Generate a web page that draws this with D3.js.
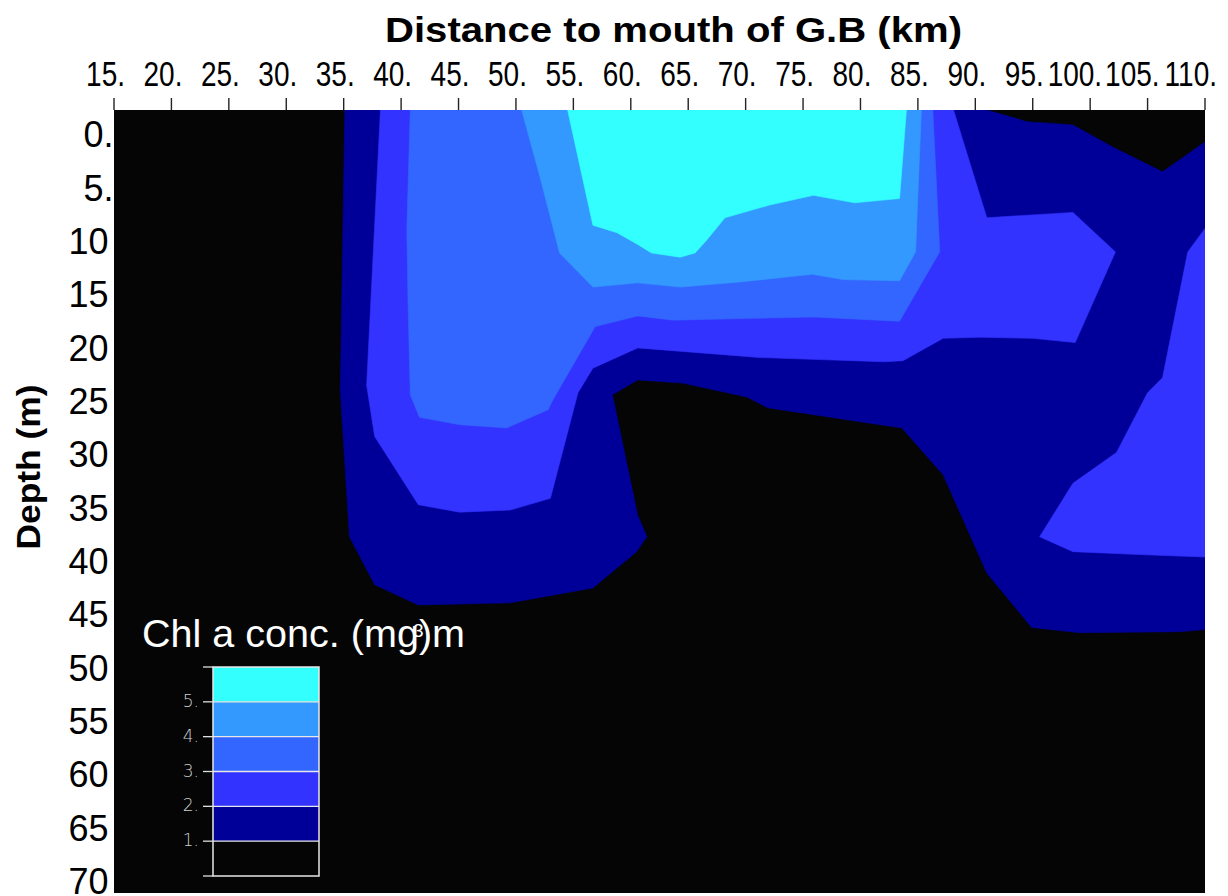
<!DOCTYPE html>
<html><head><meta charset="utf-8">
<script src="https://cdn.jsdelivr.net/npm/d3@7"></script>
<style>html,body{margin:0;padding:0;background:#fff;} svg{display:block;}</style>
</head><body>
<svg id="c" width="1228" height="896"></svg>
<script>
// ---- data ----
const xTicks = [15,20,25,30,35,40,45,50,55,60,65,70,75,80,85,90,95,100,105,110];
const yTicks = [0,5,10,15,20,25,30,35,40,45,50,55,60,65,70];
const levelValues = [1,2,3,4,5];
const levelColors = ["#000099","#3333ff","#3366ff","#3399ff","#33ffff"];
const legendLabels = ["1.","2.","3.","4.","5."];

// contour regions (distance km, depth m): area where Chl a >= level
const level1 = [[
  [35.1,-3.4],[91.0,-3.4],[94.5,-2.3],[98.5,-2.0],[102.0,0.1],[106.3,2.4],[110,-0.4],
  [110,45.3],[107.8,45.5],[99.1,45.6],[94.9,45.1],[91.0,40.0],[87.2,30.8],[83.6,26.4],
  [81.7,26.1],[71.9,24.5],[70.1,23.5],[64.5,22.2],[60.6,21.9],[58.4,23.3],[60.6,34.6],
  [61.4,36.6],[60.5,38.0],[56.7,41.4],[49.5,42.8],[41.5,43.0],[37.7,41.1],[35.5,36.6],[34.7,22.9]
]];
const level2 = [[
  [38.2,-3.4],[88.1,-3.4],[91.0,6.7],[98.5,6.2],[102.2,9.9],[98.7,18.4],[95.0,18.0],
  [90.4,17.9],[87.2,18.0],[83.7,20.1],[82.0,20.2],[71.2,19.8],[60.6,18.9],[56.7,20.8],
  [55.4,23.1],[53.0,33.0],[49.5,34.1],[45.1,34.3],[41.5,33.6],[37.7,27.2],[37.0,22.4]
],[
  [110,7.7],[108.5,9.9],[106.3,21.7],[105.0,23.1],[102.3,28.7],[98.5,31.6],[95.6,36.6],
  [98.5,38.0],[104.9,38.3],[110,38.5]
]];
const level3 = [[
  [40.8,-3.4],[86.3,-3.4],[86.9,9.9],[83.4,16.4],[75.9,16.0],[63.7,16.3],[60.6,15.9],
  [56.9,16.9],[53.2,23.8],[52.8,24.7],[49.2,26.4],[45.1,26.1],[41.6,25.4],[40.8,23.3],
  [40.6,14.4],[40.5,7.8]
]];
const level4 = [[
  [50.5,-3.4],[85.3,-3.4],[84.8,9.9],[83.4,12.6],[78.5,12.5],[75.8,12.0],[69.7,12.7],
  [64.3,13.2],[60.6,12.8],[56.7,13.2],[53.8,10.0],[52.1,2.9]
]];
const level5 = [[
  [54.5,-3.4],[84.0,-3.4],[83.4,4.9],[79.5,5.3],[75.9,4.6],[72.1,5.5],[68.2,6.7],
  [66.6,8.8],[65.6,10.0],[64.3,10.4],[61.8,10.0],[60.6,9.2],[58.8,8.1],[56.7,7.4]
]];
const levelRegions = [level1, level2, level3, level4, level5];

(function(){
// ---- layout ----
const svg = d3.select("#c");
const W = 1228, H = 896;
const pL = 114, pR = 1205, pT = 110, pB = 893;
const font = "'Liberation Sans', Arial, Helvetica, sans-serif";

const x = d3.scaleLinear().domain([15,110]).range([pL,pR]);
const y = d3.scaleLinear().domain([-3.4,70]).range([pT,pB]);

svg.append("rect").attr("width",W).attr("height",H).attr("fill","#fff");

svg.append("defs").append("clipPath").attr("id","pc")
  .append("rect").attr("x",pL).attr("y",pT).attr("width",pR-pL).attr("height",pB-pT);

const plot = svg.append("g").attr("clip-path","url(#pc)");
plot.append("rect").attr("x",pL).attr("y",pT).attr("width",pR-pL).attr("height",pB-pT)
  .attr("fill","#050505");

const line = d3.line().x(d=>x(d[0])).y(d=>y(d[1]));
levelRegions.forEach((polys,i)=>{
  plot.selectAll(null).data(polys).enter().append("path")
    .attr("d", p => line(p) + "Z")
    .attr("fill", levelColors[i])
    .attr("stroke", levelColors[i]).attr("stroke-width",0.6);
});

// top ticks
svg.append("g").selectAll("line").data(xTicks).enter().append("line")
  .attr("x1",d=>x(d)).attr("x2",d=>x(d)).attr("y1",98).attr("y2",pT)
  .attr("stroke","#222").attr("stroke-width",1.4);

// x tick labels (condensed)
svg.append("g").selectAll("text").data(xTicks).enter().append("text")
  .attr("transform",d=>`translate(${x(d)+(d>=100?12:11)},86) scale(0.8,1)`)
  .attr("text-anchor","end")
  .attr("font-family",font).attr("font-size",35).attr("fill","#000")
  .text(d=>d+".");

// title
svg.append("text").attr("x",673.5).attr("y",42).attr("text-anchor","middle")
  .attr("font-family",font).attr("font-weight","bold").attr("font-size",35)
  .attr("textLength",577).attr("lengthAdjust","spacingAndGlyphs")
  .text("Distance to mouth of G.B (km)");

// y tick labels
svg.append("g").selectAll("text").data(yTicks).enter().append("text")
  .attr("x",d=> d<10 ? 113.5 : 108.5)
  .attr("y",d=>y(d)+1)
  .attr("text-anchor","end")
  .attr("font-family",font).attr("font-size",36).attr("fill","#000")
  .text(d=> d<10 ? d+"." : String(d));

// y axis title
svg.append("text").attr("transform","translate(40,467) rotate(-90)")
  .attr("text-anchor","middle")
  .attr("font-family",font).attr("font-weight","bold").attr("font-size",34)
  .attr("textLength",165).attr("lengthAdjust","spacingAndGlyphs")
  .text("Depth (m)");

// ---- legend ----
const lg = svg.append("g");
const ly = d3.scaleLinear().domain([0,6]).range([876,667]);
const lx0 = 213, lx1 = 319;
const bandColors = ["#050505"].concat(levelColors);
lg.selectAll("rect.band").data(d3.range(6)).enter().append("rect")
  .attr("class","band")
  .attr("x",lx0).attr("width",lx1-lx0)
  .attr("y",d=>ly(d+1)).attr("height",d=>ly(d)-ly(d+1))
  .attr("fill",d=>bandColors[d]);
lg.selectAll("line.sep").data(d3.range(1,6)).enter().append("line")
  .attr("x1",lx0).attr("x2",lx1).attr("y1",d=>ly(d)).attr("y2",d=>ly(d))
  .attr("stroke","#e8e8e8").attr("stroke-width",1.3);
lg.append("rect").attr("x",lx0).attr("y",ly(6)).attr("width",lx1-lx0).attr("height",ly(0)-ly(6))
  .attr("fill","none").attr("stroke","#e8e8e8").attr("stroke-width",1.5);
lg.selectAll("line.tk").data(d3.range(0,7)).enter().append("line")
  .attr("x1",203).attr("x2",lx0).attr("y1",d=>ly(d)).attr("y2",d=>ly(d))
  .attr("stroke","#e0e0e0").attr("stroke-width",1.3);
lg.selectAll("text.lab").data(levelValues).enter().append("text")
  .attr("x",199).attr("y",d=>ly(d)+5)
  .attr("text-anchor","end")
  .attr("font-family","'DejaVu Sans', sans-serif").attr("font-weight",300)
  .attr("font-size",17).attr("fill","#cfcfcf")
  .text((d,i)=>legendLabels[i]);

lg.append("text").attr("x",142).attr("y",647)
  .attr("font-family",font).attr("font-size",39).attr("fill","#fff")
  .attr("textLength",323).attr("lengthAdjust","spacingAndGlyphs")
  .text("Chl a conc. (mg)m");
lg.append("text").attr("x",413).attr("y",637)
  .attr("font-family",font).attr("font-size",19).attr("fill","#fff")
  .text("3");
})();
</script>
</body></html>
